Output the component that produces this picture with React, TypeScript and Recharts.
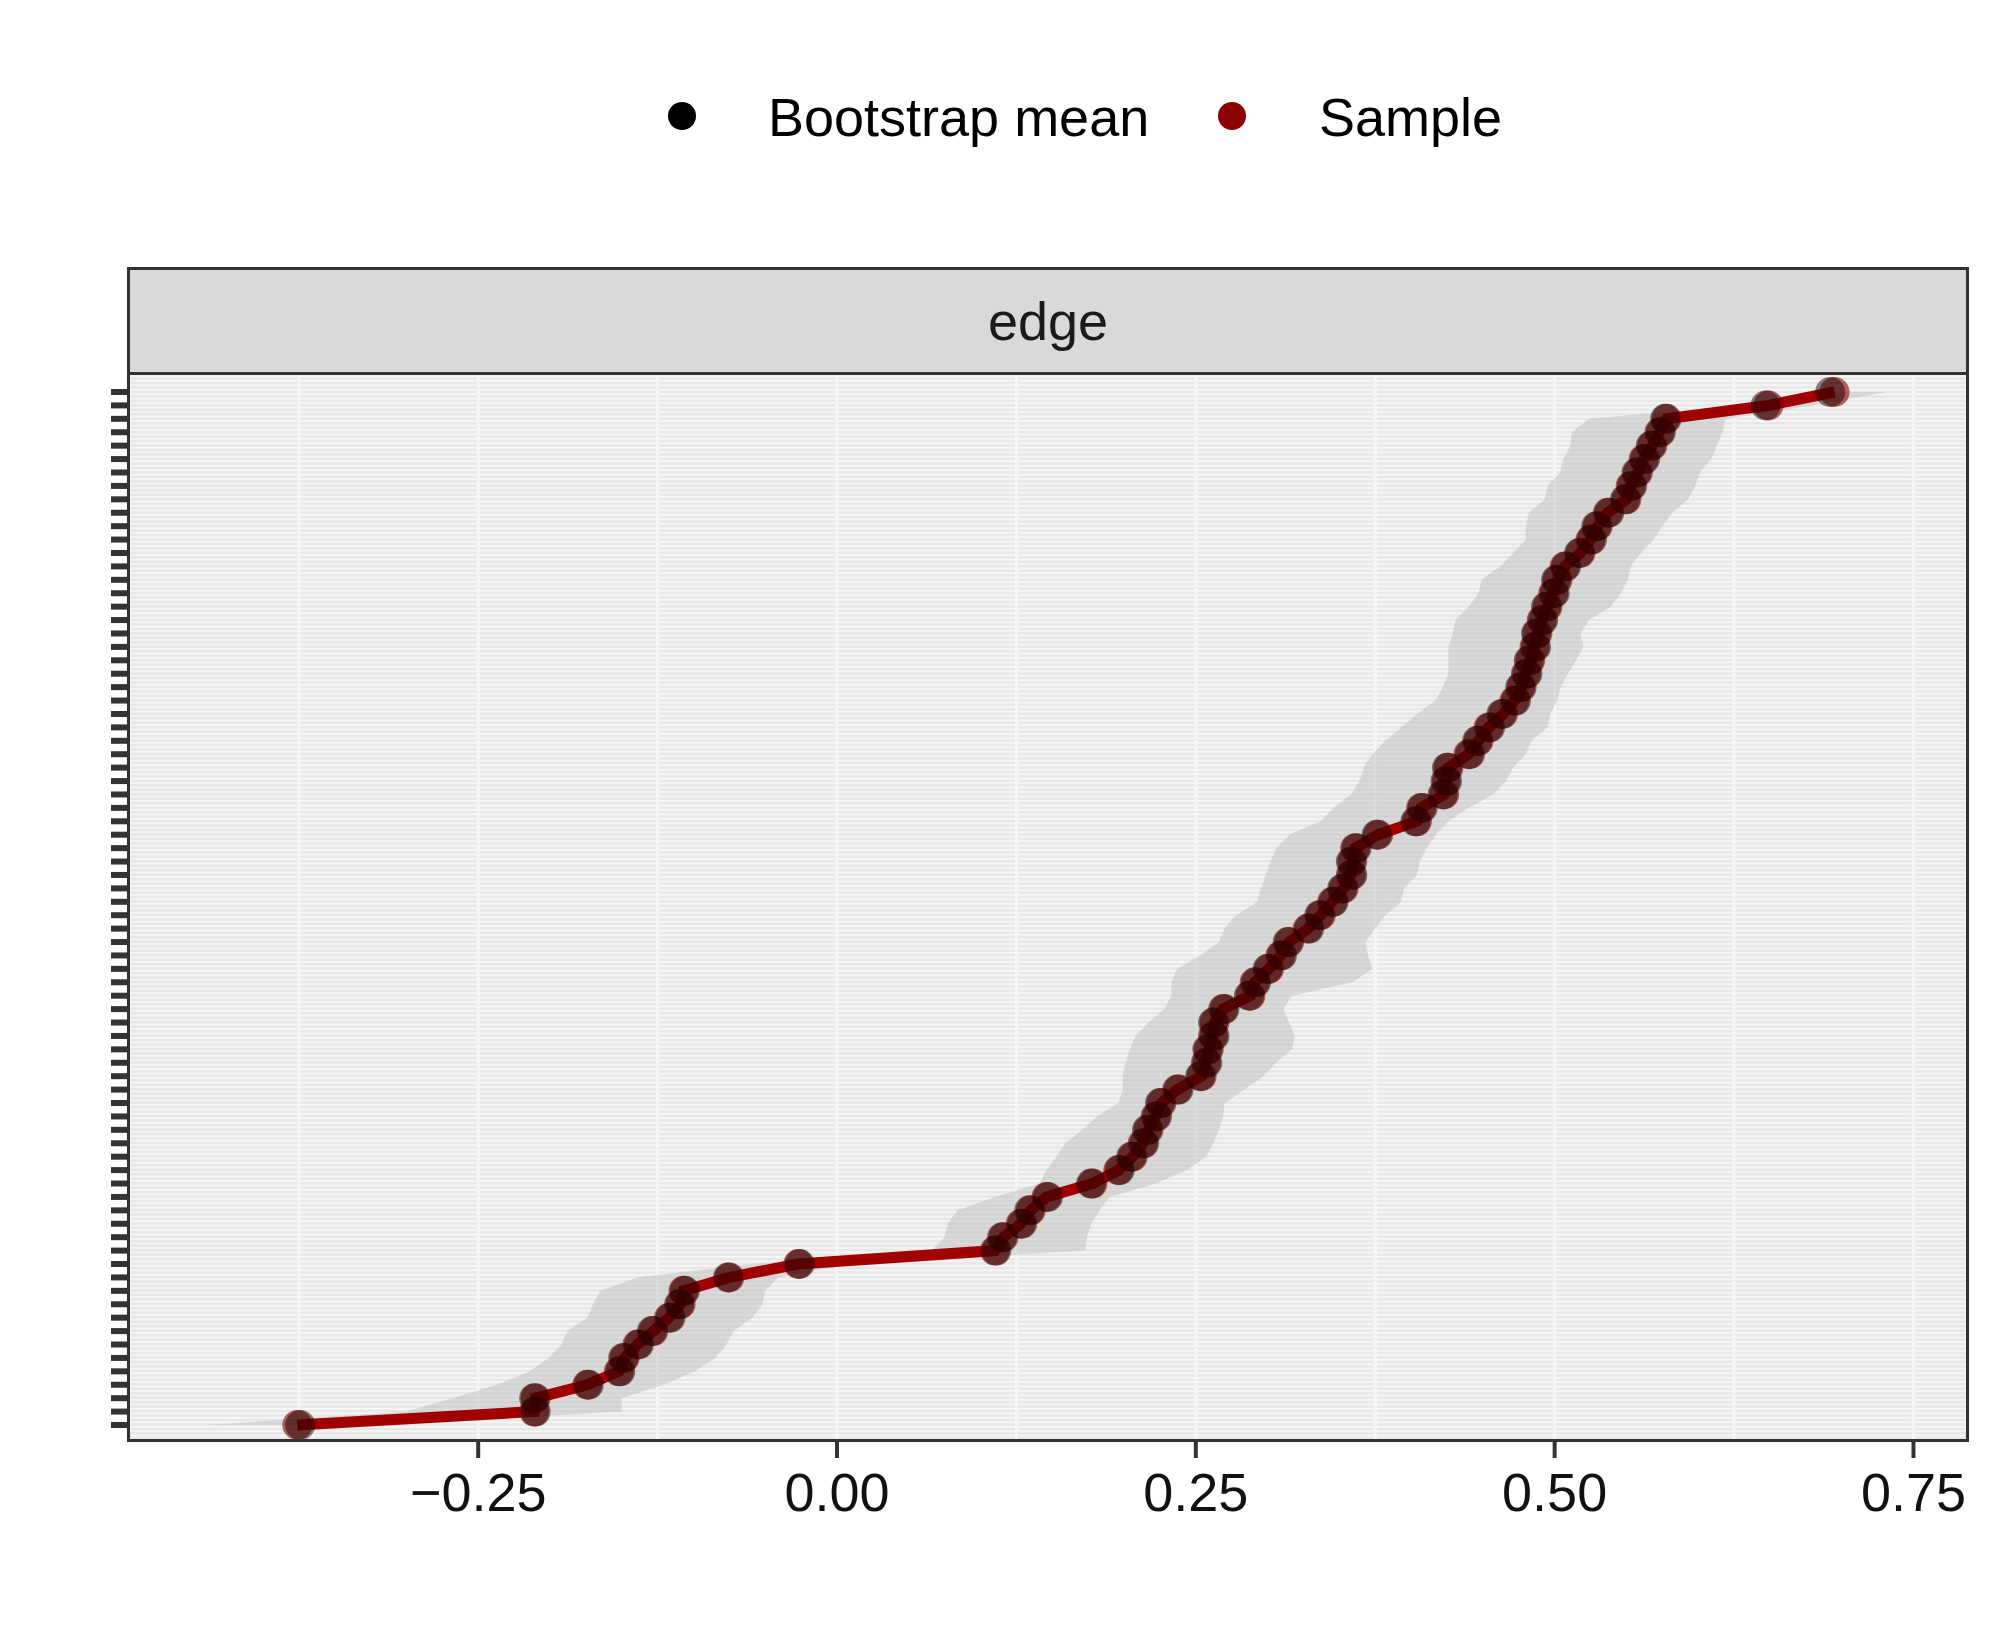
import { ComposedChart, Area, Line, XAxis, YAxis, CartesianGrid } from 'recharts';

const FONT = '"Liberation Sans", Arial, Helvetica, sans-serif';

// 13 nodes -> 78 edges; edge labels are hidden on the axis
const nodes = ['1', '2', '3', '4', '5', '6', '7', '8', '9', '10', '11', '12', '13'];
const edgeNames: string[] = [];
nodes.forEach((a, i) => nodes.slice(i + 1).forEach(b => edgeNames.push(`${a}--${b}`)));

// ordered from the lowest sample value (bottom) to the highest (top)
const sample = [
  -0.376, -0.211, -0.210, -0.174, -0.152, -0.148, -0.139, -0.128, -0.117, -0.109,
  -0.107, -0.075, -0.027, 0.110, 0.116, 0.128, 0.135, 0.146, 0.178, 0.196,
  0.206, 0.213, 0.217, 0.222, 0.226, 0.237, 0.254, 0.257, 0.259, 0.262,
  0.263, 0.269, 0.288, 0.291, 0.301, 0.309, 0.315, 0.328, 0.337, 0.345,
  0.353, 0.358, 0.359, 0.361, 0.377, 0.404, 0.407, 0.423, 0.424, 0.426,
  0.440, 0.447, 0.454, 0.464, 0.472, 0.477, 0.480, 0.483, 0.486, 0.488,
  0.491, 0.495, 0.499, 0.502, 0.507, 0.518, 0.525, 0.530, 0.537, 0.550,
  0.553, 0.558, 0.562, 0.568, 0.573, 0.578, 0.649, 0.695,
];

const bootMean = [
  -0.374, -0.210, -0.211, -0.173, -0.151, -0.149, -0.138, -0.129, -0.116, -0.110,
  -0.106, -0.076, -0.026, 0.111, 0.115, 0.129, 0.134, 0.147, 0.177, 0.197,
  0.205, 0.214, 0.216, 0.223, 0.225, 0.238, 0.253, 0.258, 0.258, 0.263,
  0.262, 0.270, 0.287, 0.292, 0.300, 0.310, 0.314, 0.329, 0.336, 0.346,
  0.352, 0.359, 0.358, 0.362, 0.376, 0.403, 0.408, 0.422, 0.425, 0.425,
  0.441, 0.446, 0.455, 0.463, 0.473, 0.476, 0.481, 0.482, 0.487, 0.487,
  0.492, 0.494, 0.500, 0.501, 0.508, 0.517, 0.526, 0.529, 0.538, 0.549,
  0.554, 0.557, 0.563, 0.567, 0.574, 0.577, 0.647, 0.692,
];

const ciLow = [
  -0.440, -0.300, -0.268, -0.237, -0.214, -0.201, -0.192, -0.188, -0.174, -0.170,
  -0.165, -0.139, -0.060, 0.066, 0.075, 0.077, 0.084, 0.110, 0.141, 0.146,
  0.153, 0.159, 0.171, 0.181, 0.196, 0.199, 0.199, 0.201, 0.204, 0.208,
  0.217, 0.228, 0.233, 0.233, 0.237, 0.253, 0.266, 0.270, 0.278, 0.293,
  0.295, 0.299, 0.302, 0.306, 0.315, 0.337, 0.346, 0.358, 0.364, 0.367,
  0.373, 0.382, 0.393, 0.404, 0.417, 0.422, 0.426, 0.426, 0.426, 0.429,
  0.431, 0.440, 0.447, 0.449, 0.462, 0.471, 0.480, 0.480, 0.482, 0.493,
  0.495, 0.504, 0.506, 0.511, 0.512, 0.524, 0.628, 0.680,
];

const ciHigh = [
  -0.320, -0.150, -0.150, -0.121, -0.099, -0.085, -0.077, -0.072, -0.059, -0.052,
  -0.050, -0.041, 0.010, 0.173, 0.174, 0.177, 0.183, 0.190, 0.222, 0.244,
  0.257, 0.262, 0.266, 0.269, 0.270, 0.284, 0.297, 0.306, 0.317, 0.319,
  0.315, 0.311, 0.317, 0.359, 0.373, 0.370, 0.368, 0.375, 0.382, 0.393,
  0.395, 0.404, 0.406, 0.411, 0.417, 0.426, 0.440, 0.457, 0.466, 0.471,
  0.480, 0.484, 0.495, 0.497, 0.502, 0.504, 0.509, 0.515, 0.520, 0.518,
  0.524, 0.539, 0.546, 0.551, 0.553, 0.560, 0.569, 0.575, 0.582, 0.593,
  0.598, 0.601, 0.609, 0.613, 0.617, 0.619, 0.680, 0.731,
];

const xDomain = [-0.494, 0.788];
const majorTicks = [-0.25, 0, 0.25, 0.5, 0.75];
const minorTicks = [-0.375, -0.125, 0.125, 0.375, 0.625];

const data = sample.map((s, i) => ({
  edge: edgeNames[i],
  sample: s,
  mean: bootMean[i],
  ci: [ciLow[i], ciHigh[i]],
}));

const fmt = (v: number) => v.toFixed(2).replace('-', '\u2212');
const NoLabel = () => <g />;

export default function App() {
  return (
    <div style={{ position: 'absolute', left: 0, top: 0, width: 2000, height: 1637, background: '#fff', fontFamily: FONT }}>
      {/* legend */}
      <div style={{ position: 'absolute', left: 668, top: 102, width: 28, height: 28, borderRadius: '50%', background: '#000' }} />
      <div style={{ position: 'absolute', left: 768, top: 87, fontSize: 54, lineHeight: '60px', color: '#000' }}>Bootstrap mean</div>
      <div style={{ position: 'absolute', left: 1218, top: 102, width: 28, height: 28, borderRadius: '50%', background: '#8b0000' }} />
      <div style={{ position: 'absolute', left: 1319, top: 87, fontSize: 54, lineHeight: '60px', color: '#000' }}>Sample</div>

      {/* facet strip */}
      <div style={{
        position: 'absolute', left: 127, top: 267, width: 1842, height: 108, boxSizing: 'border-box',
        background: '#d9d9d9', border: '3px solid #333', display: 'flex', alignItems: 'center',
        justifyContent: 'center', fontSize: 54, color: '#1a1a1a',
      }}>edge</div>

      <div style={{ position: 'absolute', left: 0, top: 0 }}>
        <ComposedChart width={2000} height={1637} data={data} layout="vertical"
          margin={{ top: 374, right: 32, bottom: 96, left: 98 }}>
          <defs>
            <pattern id="stripes" width="8" height="4.47" patternUnits="userSpaceOnUse">
              <rect width="8" height="4.47" fill="#e8e8e8" />
              <rect width="8" height="1.6" fill="#f8f8f8" />
            </pattern>
          </defs>
          <CartesianGrid horizontal={false} fill="url(#stripes)" stroke="#f6f6f6" strokeWidth={3} />
          <CartesianGrid xAxisId="minor" horizontal={false} stroke="#f6f6f6" strokeWidth={3} />
          <XAxis type="number" domain={xDomain} ticks={majorTicks} allowDataOverflow
            tickFormatter={fmt} height={100} axisLine={false} tickSize={17} tickMargin={15}
            tickLine={{ stroke: '#333', strokeWidth: 4 }}
            tick={{ fontSize: 54, fill: '#111', fontFamily: FONT }} />
          <XAxis xAxisId="minor" type="number" domain={xDomain} ticks={minorTicks} allowDataOverflow hide />
          <YAxis type="category" dataKey="edge" reversed width={30} tick={NoLabel} interval={0}
            axisLine={false} tickSize={17} tickLine={{ stroke: '#333', strokeWidth: 6 }}
            padding={{ top: 18, bottom: 16 }} />
          <Area dataKey="ci" type="linear" stroke="none" fill="#b4b4b4" fillOpacity={0.42}
            isAnimationActive={false} />
          <Line dataKey="sample" type="linear" stroke="#a00000" strokeWidth={11}
            dot={{ r: 15, fill: '#8b0000', fillOpacity: 0.6, stroke: 'none' }} isAnimationActive={false} />
          <Line dataKey="mean" type="linear" stroke="none"
            dot={{ r: 15, fill: '#1a0000', fillOpacity: 0.5, stroke: 'none' }} isAnimationActive={false} />
        </ComposedChart>
      </div>

      {/* panel border */}
      <div style={{ position: 'absolute', left: 127, top: 372, width: 1842, height: 1070, boxSizing: 'border-box', border: '3px solid #333', pointerEvents: 'none' }} />
    </div>
  );
}
